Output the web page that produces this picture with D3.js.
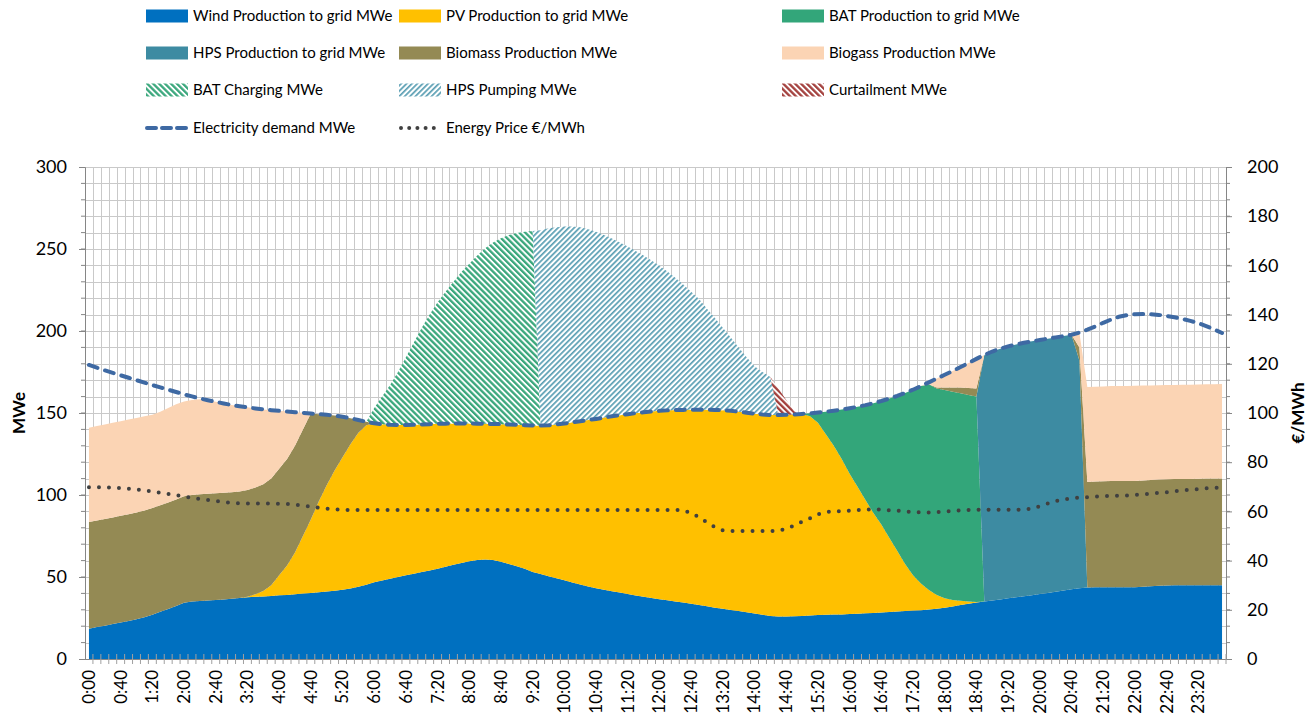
<!DOCTYPE html>
<html>
<head>
<meta charset="utf-8">
<script src="https://d3js.org/d3.v7.min.js"></script>
<style>
    body { margin: 0; background: #fff; }
    svg text { font-family: Lato, "Open Sans", sans-serif; fill: #000; }
    .tick-label { font-size: 18px; }
    .x-label { font-size: 17px; }
    .legend-label { font-size: 15px; }
    .axis-title { font-size: 17px; font-weight: bold; }
</style>
</head>
<body>
<svg id="chart" width="1314" height="715"></svg>
<script>
// values, one per 10 minutes (144 slots)
var wind = [
    18.5, 19.5, 20.3, 21.3, 22.3, 23.2, 24.3, 25.5, 27.0, 28.8, 30.5, 32.3,
    34.3, 35.0, 35.4, 35.7, 36.0, 36.3, 36.7, 37.2, 37.6, 37.9, 38.1, 38.4,
    38.8, 39.1, 39.5, 39.9, 40.3, 40.7, 41.1, 41.6, 42.2, 43.0, 44.0, 45.3,
    46.8, 47.9, 48.9, 50.0, 51.0, 52.0, 53.0, 54.0, 55.1, 56.2, 57.4, 58.6,
    59.6, 60.3, 60.7, 60.3, 59.3, 58.0, 56.6, 55.0, 53.0, 51.8, 50.5, 49.2,
    48.0, 46.7, 45.4, 44.2, 43.1, 42.2, 41.3, 40.5, 39.6, 38.7, 37.9, 37.2,
    36.5, 35.8, 35.1, 34.4, 33.7, 32.9, 32.1, 31.3, 30.6, 29.9, 29.2, 28.5,
    27.8, 27.0, 26.2, 25.9, 25.9, 26.0, 26.2, 26.5, 26.8, 27.0, 27.1, 27.2,
    27.4, 27.6, 27.9, 28.1, 28.3, 28.6, 28.9, 29.2, 29.5, 29.8, 30.2, 30.6,
    31.2, 32.0, 32.9, 33.7, 34.4, 35.0, 35.7, 36.3, 37.0, 37.6, 38.3, 38.9,
    39.6, 40.3, 41.0, 41.8, 42.5, 43.1, 43.6, 43.7, 43.7, 43.7, 43.7, 43.7,
    43.8, 44.0, 44.3, 44.6, 44.8, 44.9, 44.9, 44.9, 45.0, 45.0, 45.0, 45.0
];
var pv = [
    0, 0, 0, 0, 0, 0, 0, 0, 0, 0, 0, 0,
    0, 0, 0, 0, 0, 0, 0, 0, 0.4, 1.6, 3.4, 6.6,
    12.2, 17.9, 25.5, 35.1, 44.7, 55.3, 64.9, 73.4, 80.8, 88.0, 94.0, 97.2,
    96.9, 95.2, 93.9, 92.7, 91.7, 90.8, 90.0, 89.2, 88.3, 87.3, 86.2, 85.0,
    84.0, 83.2, 82.7, 83.0, 83.9, 85.0, 86.2, 87.6, 89.4, 90.5, 92.0, 93.8,
    95.6, 97.6, 99.6, 101.5, 103.3, 105.0, 106.7, 108.2, 109.7, 111.2, 112.5, 113.7,
    114.8, 115.8, 116.7, 117.5, 118.3, 119.1, 119.9, 120.6, 121.1, 121.4, 121.6, 121.7,
    121.8, 122.1, 122.6, 122.9, 123.0, 123.1, 123.2, 121.5, 117.2, 110.0, 102.9, 94.8,
    85.6, 77.4, 69.1, 60.9, 53.7, 45.4, 37.1, 28.8, 21.5, 16.2, 11.8, 8.4,
    5.8, 4.0, 2.6, 1.3, 0.3, 0, 0, 0, 0, 0, 0, 0,
    0, 0, 0, 0, 0, 0, 0, 0, 0, 0, 0, 0,
    0, 0, 0, 0, 0, 0, 0, 0, 0, 0, 0, 0
];
var batProd = [
    0, 0, 0, 0, 0, 0, 0, 0, 0, 0, 0, 0,
    0, 0, 0, 0, 0, 0, 0, 0, 0, 0, 0, 0,
    0, 0, 0, 0, 0, 0, 0, 0, 0, 0, 0, 0,
    0, 0, 0, 0, 0, 0, 0, 0, 0, 0, 0, 0,
    0, 0, 0, 0, 0, 0, 0, 0, 0, 0, 0, 0,
    0, 0, 0, 0, 0, 0, 0, 0, 0, 0, 0, 0,
    0, 0, 0, 0, 0, 0, 0, 0, 0, 0, 0, 0,
    0, 0, 0, 0, 0, 0, 0, 1.8, 6.3, 13.8, 21.4, 30.1,
    39.9, 48.8, 57.8, 67.0, 75.3, 84.8, 94.4, 104.2, 113.2, 120.4, 125.5, 126.0,
    127.0, 127.0, 126.5, 126.0, 125.3, 0, 0, 0, 0, 0, 0, 0,
    0, 0, 0, 0, 0, 0, 0, 0, 0, 0, 0, 0,
    0, 0, 0, 0, 0, 0, 0, 0, 0, 0, 0, 0
];
var hpsProd = [
    0, 0, 0, 0, 0, 0, 0, 0, 0, 0, 0, 0,
    0, 0, 0, 0, 0, 0, 0, 0, 0, 0, 0, 0,
    0, 0, 0, 0, 0, 0, 0, 0, 0, 0, 0, 0,
    0, 0, 0, 0, 0, 0, 0, 0, 0, 0, 0, 0,
    0, 0, 0, 0, 0, 0, 0, 0, 0, 0, 0, 0,
    0, 0, 0, 0, 0, 0, 0, 0, 0, 0, 0, 0,
    0, 0, 0, 0, 0, 0, 0, 0, 0, 0, 0, 0,
    0, 0, 0, 0, 0, 0, 0, 0, 0, 0, 0, 0,
    0, 0, 0, 0, 0, 0, 0, 0, 0, 0, 0, 0,
    0, 0, 0, 0, 0, 150.4, 151.8, 152.9, 153.6, 154.2, 154.5, 154.8,
    154.9, 155.0, 155.1, 155.1, 155.2, 138.9, 0, 0, 0, 0, 0, 0,
    0, 0, 0, 0, 0, 0, 0, 0, 0, 0, 0, 0
];
var biomass = [
    65, 65, 65, 65, 65, 65, 65, 65, 65, 65, 65, 65,
    65, 65, 65, 65, 65, 65, 65, 65, 65, 65, 65, 65,
    65, 65, 65, 65, 64.7, 53.3, 42.9, 33.4, 24.7, 15.8, 7.7, 2.1,
    0, 0, 0, 0, 0, 0, 0, 0, 0, 0, 0, 0,
    0, 0, 0, 0, 0, 0, 0, 0, 0, 0, 0, 0,
    0, 0, 0, 0, 0, 0, 0, 0, 0, 0, 0, 0,
    0, 0, 0, 0, 0, 0, 0, 0, 0, 0, 0, 0,
    0, 0, 0, 0, 0, 0, 0, 0, 0, 0, 0, 0,
    0, 0, 0, 0, 0, 0, 0, 0, 0, 0, 0, 0.5,
    1.5, 2.5, 3.5, 4.2, 5.0, 0, 0, 0, 0, 0, 0, 0,
    0, 0, 0, 0, 0, 8.0, 64.4, 64.6, 64.7, 64.8, 64.8, 64.8,
    64.7, 64.8, 64.8, 64.8, 64.8, 64.8, 64.9, 64.9, 64.9, 65.0, 65.0, 65.0
];
var biogas = [
    57.5, 57.5, 57.7, 57.7, 57.7, 57.8, 57.7, 57.5, 57.0, 57.0, 57.5, 58.0,
    57.7, 58.0, 58.0, 57.1, 55.8, 54.5, 53.2, 51.9, 50.5, 48.3, 45.7, 41.7,
    35.3, 28.9, 20.5, 10.1, 0, 0, 0, 0, 0, 0, 0, 0,
    0, 0, 0, 0, 0, 0, 0, 0, 0, 0, 0, 0,
    0, 0, 0, 0, 0, 0, 0, 0, 0, 0, 0, 0,
    0, 0, 0, 0, 0, 0, 0, 0, 0, 0, 0, 0,
    0, 0, 0, 0, 0, 0, 0, 0, 0, 0, 0, 0,
    0, 0, 0, 0, 0, 0, 0, 0, 0, 0, 0, 0,
    0, 0, 0, 0, 0, 0, 0, 0, 0, 0, 1.2, 5.5,
    7.8, 10.1, 12.5, 15.3, 18.0, 0, 0, 0, 0, 0, 0, 0,
    0, 0, 0, 0, 0, 9.0, 57.8, 57.7, 57.8, 57.9, 58.0, 58.0,
    58.1, 57.9, 57.7, 57.5, 57.4, 57.4, 57.4, 57.5, 57.5, 57.5, 57.6, 57.7
];
var batCharge = [
    0, 0, 0, 0, 0, 0, 0, 0, 0, 0, 0, 0,
    0, 0, 0, 0, 0, 0, 0, 0, 0, 0, 0, 0,
    0, 0, 0, 0, 0, 0, 0, 0, 0, 0, 0, 0,
    9.3, 16.9, 24.2, 32.3, 41.3, 50.2, 59.0, 66.8, 74.1, 80.5, 86.4, 92.4,
    97.4, 102.5, 107.1, 110.7, 113.3, 115.5, 116.9, 117.9, 118.6, 0, 0, 0,
    0, 0, 0, 0, 0, 0, 0, 0, 0, 0, 0, 0,
    0, 0, 0, 0, 0, 0, 0, 0, 0, 0, 0, 0,
    0, 0, 0, 0, 0, 0, 0, 0, 0, 0, 0, 0,
    0, 0, 0, 0, 0, 0, 0, 0, 0, 0, 0, 0,
    0, 0, 0, 0, 0, 0, 0, 0, 0, 0, 0, 0,
    0, 0, 0, 0, 0, 0, 0, 0, 0, 0, 0, 0,
    0, 0, 0, 0, 0, 0, 0, 0, 0, 0, 0, 0
];
var hpsPump = [
    0, 0, 0, 0, 0, 0, 0, 0, 0, 0, 0, 0,
    0, 0, 0, 0, 0, 0, 0, 0, 0, 0, 0, 0,
    0, 0, 0, 0, 0, 0, 0, 0, 0, 0, 0, 0,
    0, 0, 0, 0, 0, 0, 0, 0, 0, 0, 0, 0,
    0, 0, 0, 0, 0, 0, 0, 0, 0, 119.2, 120.1, 120.3,
    120.1, 119.4, 118.2, 116.3, 114.1, 111.4, 108.4, 105.3, 102.2, 98.9, 95.6, 92.1,
    88.5, 84.7, 80.7, 76.5, 72.0, 67.5, 61.5, 56.1, 50.3, 44.7, 39.2, 33.8,
    28.9, 25.9, 23.2, 0, 0, 0, 0, 0, 0, 0, 0, 0,
    0, 0, 0, 0, 0, 0, 0, 0, 0, 0, 0, 0,
    0, 0, 0, 0, 0, 0, 0, 0, 0, 0, 0, 0,
    0, 0, 0, 0, 0, 0, 0, 0, 0, 0, 0, 0,
    0, 0, 0, 0, 0, 0, 0, 0, 0, 0, 0, 0
];
var curtail = [
    0, 0, 0, 0, 0, 0, 0, 0, 0, 0, 0, 0,
    0, 0, 0, 0, 0, 0, 0, 0, 0, 0, 0, 0,
    0, 0, 0, 0, 0, 0, 0, 0, 0, 0, 0, 0,
    0, 0, 0, 0, 0, 0, 0, 0, 0, 0, 0, 0,
    0, 0, 0, 0, 0, 0, 0, 0, 0, 0, 0, 0,
    0, 0, 0, 0, 0, 0, 0, 0, 0, 0, 0, 0,
    0, 0, 0, 0, 0, 0, 0, 0, 0, 0, 0, 0,
    0, 0, 0, 16.2, 9.1, 1.9, 0, 0, 0, 0, 0, 0,
    0, 0, 0, 0, 0, 0, 0, 0, 0, 0, 0, 0,
    0, 0, 0, 0, 0, 0, 0, 0, 0, 0, 0, 0,
    0, 0, 0, 0, 0, 0, 0, 0, 0, 0, 0, 0,
    0, 0, 0, 0, 0, 0, 0, 0, 0, 0, 0, 0
];
var demand = [
    179.3, 177.6, 176.0, 174.5, 173.0, 171.5, 170.0, 168.5, 167.0, 165.6, 164.2, 162.8,
    161.4, 160.1, 158.9, 157.8, 156.8, 155.8, 154.9, 154.1, 153.4, 152.8, 152.2, 151.7,
    151.3, 150.9, 150.5, 150.1, 149.7, 149.3, 148.9, 148.4, 147.7, 146.8, 145.7, 144.6,
    143.7, 143.1, 142.8, 142.7, 142.7, 142.8, 143.0, 143.2, 143.4, 143.5, 143.6, 143.6,
    143.6, 143.5, 143.4, 143.3, 143.2, 143.0, 142.8, 142.6, 142.4, 142.3, 142.5, 143.0,
    143.6, 144.3, 145.0, 145.7, 146.4, 147.2, 148.0, 148.7, 149.3, 149.9, 150.4, 150.9,
    151.3, 151.6, 151.8, 151.9, 152.0, 152.0, 152.0, 151.9, 151.7, 151.3, 150.8, 150.2,
    149.6, 149.1, 148.8, 148.8, 148.9, 149.1, 149.4, 149.8, 150.3, 150.8, 151.4, 152.1,
    152.9, 153.8, 154.8, 156.0, 157.3, 158.8, 160.4, 162.2, 164.2, 166.4, 168.7, 171.0,
    173.3, 175.6, 178.0, 180.5, 183.0, 185.4, 187.5, 189.2, 190.6, 191.8, 192.8, 193.7,
    194.5, 195.3, 196.1, 196.9, 197.7, 199.0, 200.8, 202.8, 205.0, 207.0, 208.7, 209.7,
    210.2, 210.3, 210.2, 209.8, 209.2, 208.4, 207.4, 206.2, 204.8, 203.0, 201.0, 198.8
];
var price = [
    69.8, 69.8, 69.8, 69.7, 69.5, 69.2, 68.9, 68.5, 68.1, 67.6, 67.1, 66.6,
    66.0, 65.5, 65.0, 64.6, 64.2, 63.8, 63.5, 63.3, 63.2, 63.2, 63.2, 63.2,
    63.1, 63.0, 62.7, 62.3, 61.9, 61.5, 61.1, 60.8, 60.6, 60.6, 60.6, 60.6,
    60.6, 60.6, 60.6, 60.6, 60.6, 60.6, 60.6, 60.6, 60.6, 60.6, 60.6, 60.6,
    60.6, 60.6, 60.6, 60.6, 60.6, 60.6, 60.6, 60.6, 60.6, 60.6, 60.6, 60.6,
    60.6, 60.6, 60.6, 60.6, 60.6, 60.6, 60.6, 60.6, 60.6, 60.6, 60.6, 60.6,
    60.6, 60.6, 60.6, 60.5, 59.3, 57.6, 55.5, 53.6, 52.3, 52.0, 52.0, 52.0,
    52.0, 52.0, 52.0, 52.2, 52.9, 54.3, 55.8, 57.2, 58.8, 59.7, 60.0, 60.1,
    60.3, 60.5, 60.7, 60.8, 60.7, 60.5, 60.3, 60.0, 59.7, 59.6, 59.6, 59.7,
    59.9, 60.2, 60.4, 60.6, 60.7, 60.7, 60.7, 60.7, 60.7, 60.7, 60.7, 61.1,
    62.1, 63.2, 64.2, 64.9, 65.3, 65.6, 65.8, 66.0, 66.2, 66.3, 66.4, 66.5,
    66.7, 66.9, 67.2, 67.5, 67.8, 68.2, 68.5, 68.8, 69.1, 69.4, 69.6, 69.8
];

var tickLabels = ["0:00", "0:40", "1:20", "2:00", "2:40", "3:20", "4:00", "4:40", "5:20",
    "6:00", "6:40", "7:20", "8:00", "8:40", "9:20", "10:00", "10:40", "11:20", "12:00",
    "12:40", "13:20", "14:00", "14:40", "15:20", "16:00", "16:40", "17:20", "18:00",
    "18:40", "19:20", "20:00", "20:40", "21:20", "22:00", "22:40", "23:20"];

var seriesKeys = ["wind", "pv", "batProd", "hpsProd", "biomass", "biogas", "batCharge", "hpsPump", "curtail"];
var seriesNames = ["Wind Production to grid MWe", "PV Production to grid MWe", "BAT Production to grid MWe",
    "HPS Production to grid MWe", "Biomass Production MWe", "Biogass Production MWe",
    "BAT Charging MWe", "HPS Pumping MWe", "Curtailment MWe"];
var lineNames = ["Electricity demand MWe", "Energy Price \u20ac/MWh"];

var fills = {
    wind: "#0070c0",
    pv: "#ffc000",
    batProd: "#33a67a",
    hpsProd: "#3d8ba2",
    biomass: "#948a54",
    biogas: "#fbd4b4",
    batCharge: "url(#hatchBat)",
    hpsPump: "url(#hatchHps)",
    curtail: "url(#hatchCurt)"
};
var demandColor = "#3e69a3";
var priceColor = "#404040";
var gridColor = "#c9c9c9";
var axisColor = "#868686";

// categories: one per 10 minutes
var times = d3.range(wind.length).map(function(i) {
    return Math.floor(i / 6) + ":" + d3.format("02")((i % 6) * 10);
});

var rows = times.map(function(t, i) {
    return {
        time: t, wind: wind[i], pv: pv[i], batProd: batProd[i], hpsProd: hpsProd[i],
        biomass: biomass[i], biogas: biogas[i], batCharge: batCharge[i],
        hpsPump: hpsPump[i], curtail: curtail[i]
    };
});

var plotLeft = 85, plotRight = 1226, plotTop = 167, plotBottom = 659;

var x = d3.scalePoint()
    .domain(times)
    .range([plotLeft, plotRight])
    .padding(0.5);
var step = x.step();

var y = d3.scaleLinear()
    .domain([0, 300])
    .range([plotBottom, plotTop]);

var yPrice = d3.scaleLinear()
    .domain([0, 200])
    .range([plotBottom, plotTop]);

var svg = d3.select("#chart");
var defs = svg.append("defs");

//diagonal hatch patterns for the charging / pumping / curtailment areas
function hatch(id, color, size, stripe, angle) {
    var p = defs.append("pattern")
        .attr("id", id)
        .attr("patternUnits", "userSpaceOnUse")
        .attr("width", size)
        .attr("height", size)
        .attr("patternTransform", "rotate(" + angle + ")");
    p.append("rect").attr("width", size).attr("height", size).attr("fill", "#fff");
    p.append("rect").attr("width", stripe).attr("height", size).attr("fill", color);
}
hatch("hatchBat", "#3aa77c", 4.2, 2.3, -45);
hatch("hatchHps", "#5b9fb4", 3.8, 1.7, 45);
hatch("hatchCurt", "#a3403d", 4.2, 2.3, -45);

// gridlines
var grid = svg.append("g");
grid.selectAll("line.h")
    .data(d3.range(10, 301, 10))
    .enter()
    .append("line")
    .attr("x1", plotLeft)
    .attr("x2", plotRight)
    .attr("y1", function(d) { return Math.round(y(d)) + 0.5; })
    .attr("y2", function(d) { return Math.round(y(d)) + 0.5; })
    .attr("stroke", gridColor);

grid.selectAll("line.v")
    .data(times)
    .enter()
    .append("line")
    .attr("x1", function(d) { return Math.round(x(d) + step / 2) + 0.5; })
    .attr("x2", function(d) { return Math.round(x(d) + step / 2) + 0.5; })
    .attr("y1", plotTop)
    .attr("y2", plotBottom)
    .attr("stroke", gridColor);

// stacked areas
var stack = d3.stack().keys(seriesKeys);
var layers = stack(rows);

var area = d3.area()
    .x(function(d) { return x(d.data.time); })
    .y0(function(d) { return y(d[0]); })
    .y1(function(d) { return y(d[1]); });

svg.append("g")
    .selectAll("path")
    .data(layers)
    .enter()
    .append("path")
    .attr("d", area)
    .attr("fill", function(d) { return fills[d.key]; });

// axes
var leftAxis = svg.append("g")
    .attr("transform", "translate(" + plotLeft + ",0)")
    .call(d3.axisLeft(y).tickValues(d3.range(0, 301, 50)).tickSize(6).tickPadding(12));

var rightAxis = svg.append("g")
    .attr("transform", "translate(" + plotRight + ",0)")
    .call(d3.axisRight(yPrice).tickValues(d3.range(0, 201, 20)).tickSize(6).tickPadding(15));

[leftAxis, rightAxis].forEach(function(a) {
    a.select(".domain").attr("stroke", axisColor);
    a.selectAll(".tick line").attr("stroke", axisColor);
    a.selectAll(".tick text").attr("class", "tick-label");
});

// minor ticks every 10 MWe on both sides
svg.append("g")
    .selectAll("line")
    .data(d3.range(10, 300, 10))
    .enter()
    .append("line")
    .attr("x1", plotLeft - 4)
    .attr("x2", plotLeft)
    .attr("y1", function(d) { return y(d); })
    .attr("y2", function(d) { return y(d); })
    .attr("stroke", axisColor);

svg.append("g")
    .selectAll("line")
    .data(d3.range(10, 300, 10))
    .enter()
    .append("line")
    .attr("x1", plotRight)
    .attr("x2", plotRight + 4)
    .attr("y1", function(d) { return y(d); })
    .attr("y2", function(d) { return y(d); })
    .attr("stroke", axisColor);

// bottom axis: line, crossing ticks at category edges, rotated labels
var bottom = svg.append("g");
bottom.append("line")
    .attr("x1", plotLeft)
    .attr("x2", plotRight)
    .attr("y1", plotBottom + 0.5)
    .attr("y2", plotBottom + 0.5)
    .attr("stroke", axisColor);

bottom.selectAll("line.tk")
    .data(times)
    .enter()
    .append("line")
    .attr("x1", function(d) { return x(d) + step / 2; })
    .attr("x2", function(d) { return x(d) + step / 2; })
    .attr("y1", plotBottom - 5)
    .attr("y2", plotBottom + 5)
    .attr("stroke", "#a0a0a0");

bottom.selectAll("text")
    .data(tickLabels)
    .enter()
    .append("text")
    .attr("class", "x-label")
    .attr("text-anchor", "end")
    .attr("dy", "0.35em")
    .attr("transform", function(d) {
        return "translate(" + x(d) + "," + (plotBottom + 11) + ") rotate(-90)";
    })
    .text(function(d) { return d; });

// lines
var demandLine = d3.line()
    .x(function(d, i) { return x(times[i]); })
    .y(function(d) { return y(d); });

var priceLine = d3.line()
    .x(function(d, i) { return x(times[i]); })
    .y(function(d) { return yPrice(d); });

svg.append("path")
    .datum(demand)
    .attr("d", demandLine)
    .attr("fill", "none")
    .attr("stroke", demandColor)
    .attr("stroke-width", 4)
    .attr("stroke-linecap", "round")
    .attr("stroke-dasharray", "9 8");

svg.append("path")
    .datum(price)
    .attr("d", priceLine)
    .attr("fill", "none")
    .attr("stroke", priceColor)
    .attr("stroke-width", 4)
    .attr("stroke-linecap", "round")
    .attr("stroke-dasharray", "0 10");

// axis titles
svg.append("text")
    .attr("class", "axis-title")
    .attr("text-anchor", "middle")
    .attr("transform", "translate(25," + (plotTop + plotBottom) / 2 + ") rotate(-90)")
    .text("MWe");

svg.append("text")
    .attr("class", "axis-title")
    .attr("text-anchor", "middle")
    .attr("transform", "translate(1304," + (plotTop + plotBottom) / 2 + ") rotate(-90)")
    .text("\u20ac/MWh");

// legend, 3 columns
var legCols = [146, 399, 782];
var legRows = [16, 53, 90, 128];
var legend = svg.append("g");

var li = legend.selectAll("g.item")
    .data(seriesKeys)
    .enter()
    .append("g")
    .attr("transform", function(d, i) {
        return "translate(" + legCols[i % 3] + "," + legRows[Math.floor(i / 3)] + ")";
    });

li.append("rect")
    .attr("x", 0)
    .attr("y", -6.5)
    .attr("width", 42)
    .attr("height", 13)
    .attr("fill", function(d) { return fills[d]; });

li.append("text")
    .attr("class", "legend-label")
    .attr("x", 47)
    .attr("dy", "0.35em")
    .text(function(d, i) { return seriesNames[i]; });

var ll = legend.selectAll("g.line")
    .data(lineNames)
    .enter()
    .append("g")
    .attr("transform", function(d, i) {
        return "translate(" + legCols[i] + "," + legRows[3] + ")";
    });

ll.append("line")
    .attr("x1", function(d, i) { return i === 0 ? 1 : 2; })
    .attr("x2", 42)
    .attr("stroke", function(d, i) { return i === 0 ? demandColor : priceColor; })
    .attr("stroke-width", 4)
    .attr("stroke-linecap", "round")
    .attr("stroke-dasharray", function(d, i) { return i === 0 ? "9 6" : "0 8.2"; });

ll.append("text")
    .attr("class", "legend-label")
    .attr("x", 47)
    .attr("dy", "0.35em")
    .text(function(d) { return d; });
</script>
</body>
</html>
